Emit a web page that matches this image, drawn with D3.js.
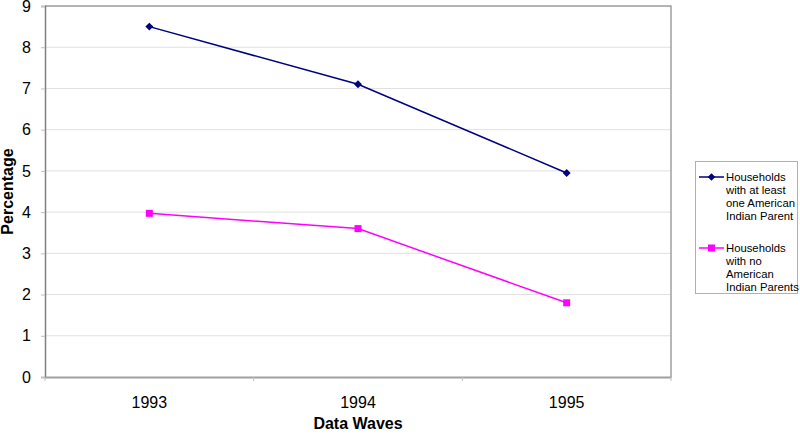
<!DOCTYPE html>
<html>
<head>
<meta charset="utf-8">
<script src="https://cdn.jsdelivr.net/npm/d3@7"></script>
<style>
  body { margin: 0; background: #fff; }
  svg { display: block; font-family: "Liberation Sans", Arial, sans-serif; }
</style>
</head>
<body>
<svg id="chart" width="800" height="435"></svg>
<script>
// data
var years = ["1993", "1994", "1995"];
var withParent = [8.5, 7.1, 4.95];
var noParent = [3.97, 3.6, 1.8];
var yTicks = [0, 1, 2, 3, 4, 5, 6, 7, 8, 9];
var seriesNames = ["Households with at least one American Indian Parent",
                   "Households with no American Indian Parents"];

var svg = d3.select("#chart");
var pLeft = 45, pRight = 671, pTop = 6, pBottom = 377;

var x = d3.scaleBand().domain(years).range([pLeft, pRight]);
var y = d3.scaleLinear().domain([0, 9]).range([pBottom, pTop]);

// gridlines
svg.append("g").selectAll("line")
  .data(yTicks.slice(1))
  .enter().append("line")
  .attr("x1", pLeft).attr("x2", pRight)
  .attr("y1", function(d){ return y(d) }).attr("y2", function(d){ return y(d) })
  .attr("stroke", "#e0e0e0").attr("stroke-width", 1);

// plot frame (right + top)
svg.append("path")
  .attr("d", "M" + pLeft + "," + pTop + "H" + pRight + "V" + pBottom)
  .attr("fill", "none").attr("stroke", "#a0a0a0").attr("stroke-width", 1.5);

// y axis
var yAxis = svg.append("g").attr("transform", "translate(" + pLeft + ",0)")
  .call(d3.axisLeft(y).tickValues(yTicks).tickSize(4).tickPadding(10));
yAxis.select(".domain").attr("stroke", "#808080").attr("stroke-width", 1.5);
yAxis.selectAll(".tick line").attr("stroke", "#c0c0c0");
yAxis.selectAll("text").attr("font-size", 16).attr("fill", "#000");

// x axis: ticks at category boundaries
var xAxis = svg.append("g").attr("transform", "translate(0," + pBottom + ")")
  .call(d3.axisBottom(x).tickSize(0).tickPadding(20));
xAxis.select(".domain").attr("stroke", "#a0a0a0").attr("stroke-width", 2);
xAxis.selectAll("text").attr("font-size", 16).attr("fill", "#000");
xAxis.selectAll(".bound").data(years.concat(["end"]))
  .enter().append("line").attr("class", "bound")
  .attr("x1", function(d, i){ return pLeft + i * x.bandwidth() })
  .attr("x2", function(d, i){ return pLeft + i * x.bandwidth() })
  .attr("y1", 0).attr("y2", 4)
  .attr("stroke", "#c0c0c0");

// axis titles
svg.append("text").attr("x", (pLeft + pRight) / 2).attr("y", 429)
  .attr("text-anchor", "middle").attr("font-size", 16).attr("font-weight", "bold")
  .text("Data Waves");
svg.append("text")
  .attr("transform", "translate(13," + ((pTop + pBottom) / 2) + ") rotate(-90)")
  .attr("text-anchor", "middle").attr("font-size", 16).attr("font-weight", "bold")
  .text("Percentage");

var cx = function(d, i){ return x(years[i]) + x.bandwidth() / 2 };
var line = d3.line().x(cx).y(function(d){ return y(d) });

// series 1: navy diamonds
svg.append("path").datum(withParent)
  .attr("d", line).attr("fill", "none").attr("stroke", "#000080").attr("stroke-width", 1.5);
svg.append("g").selectAll("path").data(withParent).enter().append("path")
  .attr("d", d3.symbol().type(d3.symbolDiamond2).size(40))
  .attr("transform", function(d, i){ return "translate(" + cx(d, i) + "," + y(d) + ")" })
  .attr("fill", "#000080");

// series 2: magenta squares
svg.append("path").datum(noParent)
  .attr("d", line).attr("fill", "none").attr("stroke", "#ff00ff").attr("stroke-width", 1.5);
svg.append("g").selectAll("rect").data(noParent).enter().append("rect")
  .attr("x", function(d, i){ return cx(d, i) - 3.5 }).attr("y", function(d){ return y(d) - 3.5 })
  .attr("width", 7).attr("height", 7).attr("fill", "#ff00ff");

// legend
var lg = svg.append("g");
lg.append("rect").attr("x", 695.5).attr("y", 161.5).attr("width", 102).attr("height", 132)
  .attr("fill", "#fff").attr("stroke", "#b0b0b0");

var legendLines = [
  ["Households", "with at least", "one American", "Indian Parent"],
  ["Households", "with no", "American", "Indian Parents"]
];
var colors = ["#000080", "#ff00ff"];
legendLines.forEach(function(lines, k){
  var y0 = 177 + k * 71;
  lg.append("line").attr("x1", 699).attr("x2", 724).attr("y1", y0).attr("y2", y0)
    .attr("stroke", colors[k]).attr("stroke-width", 1.5);
  if (k == 0) {
    lg.append("path").attr("d", d3.symbol().type(d3.symbolDiamond2).size(36))
      .attr("transform", "translate(711.5," + y0 + ")").attr("fill", colors[k]);
  } else {
    lg.append("rect").attr("x", 708).attr("y", y0 - 3.5).attr("width", 7).attr("height", 7)
      .attr("fill", colors[k]);
  }
  lg.append("text").attr("x", 726).attr("y", y0 + 4).attr("font-size", 11.3)
    .selectAll("tspan").data(lines).enter().append("tspan")
    .attr("x", 726).attr("dy", function(d, i){ return i == 0 ? 0 : 13 })
    .text(function(d){ return d });
});
</script>
</body>
</html>
